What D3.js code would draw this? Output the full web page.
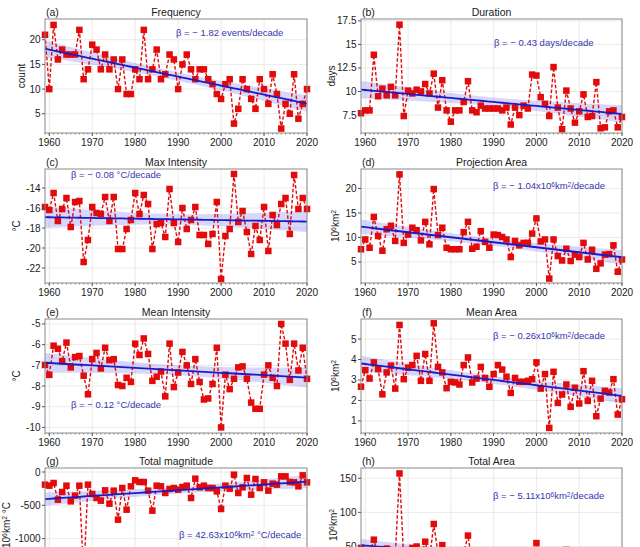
<!DOCTYPE html>
<html><head><meta charset="utf-8">
<script src="https://cdn.jsdelivr.net/npm/d3@7"></script>
<style>
body{margin:0;background:#fff}
svg{display:block}
text{font-family:"Liberation Sans",Arial,Helvetica,sans-serif;fill:#1a1a1a}
</style>
</head><body>
<svg id="c" width="640" height="547"></svg>
<script>
// ---------------- data ----------------
const years = d3.range(1959, 2021);
const xTicks = [1960, 1970, 1980, 1990, 2000, 2010, 2020];

const frequency = [21,10,23,16,18,17,17,17,22,12,14,19,18,14,17,14,16,10,16,9,9,14,12,22,12,14,18,12,13,17,16,
  10,15,17,14,12,14,14,12,11,9,8,11,12,3,6,12,10,8,6,12,10,7,13,9,2,7,5,13,4,7,10];
const duration = [7.7,8.0,8.0,13.9,9.5,10.3,9.6,10.5,9.6,17.1,7.4,
  10.1,9.8,10.2,10.0,10.8,9.8,11.9,8.3,11.2,8.0,6.8,8.0,8.0,8.9,11.1,
  8.0,7.8,8.5,8.2,8.2,8.2,8.2,8.0,8.3,
  6.5,8.3,7.5,8.5,8.2,
  11.8,11.7,9.4,8.7,7.4,12.6,8.3,6.0,10.1,8.2,6.7,7.9,9.7,7.3,7.4,11.0,6.1,6.2,7.9,8.0,6.2,7.3];
const maxIntensity = [-15.9,-16.2,-14.5,-17.3,-16.1,-15.0,-17.9,-15.4,-15.3,-21.4,
  -19.2,-15.9,-16.5,-16.6,-14.9,-17.3,-14.9,-20.1,-20.1,-18.1,
  -17.2,-14.5,-16.6,-14.7,-15.6,-20.1,-17.6,-17.5,-18.9,-14.1,
  -17.5,-19.4,-16.0,-18.1,-17.2,-15.9,-18.7,-18.7,-19.6,-18.6,
  -15.4,-23.1,-18.8,-18.1,-12.6,-17.4,-16.3,-18.4,-20.6,-17.8,
  -19.2,-15.9,-20.3,-16.7,-17.7,-15.6,-15.0,-18.6,-12.7,-16.1,
  -15.0,-16.1];
const projectionArea = [7.6,9.6,7.9,14.2,10.3,7.3,11.7,12.4,9.3,22.9,
  8.9,10.6,12.0,11.5,9.4,13.2,8.6,19.9,10.5,12.0,
  7.9,7.6,7.6,7.6,11.1,13.2,7.7,8.1,11.3,9.1,
  7.9,10.6,10.5,10.1,9.6,6.0,9.3,8.4,8.9,8.9,
  10.8,13.9,9.2,9.6,1.6,9.6,6.2,5.3,7.7,5.2,
  6.5,6.0,8.9,5.5,7.5,3.6,4.7,6.5,6.6,8.4,
  3.0,5.5];
const meanIntensity = [-6.98,-7.46,-6.05,-6.2,-6.8,-5.9,-7.1,-6.6,-6.55,-7.5,
  -8.4,-6.7,-6.4,-7.15,-6.15,-6.75,-6.7,-7.95,-8.0,-7.6,
  -7.8,-5.95,-6.5,-5.7,-6.45,-7.75,-7.55,-7.3,-8.5,-5.95,
  -8.05,-7.35,-6.35,-7.0,-7.9,-6.7,-7.8,-8.65,-8.6,-7.9,
  -6.15,-10.0,-7.45,-8.15,-7.65,-7.1,-7.05,-7.65,-8.8,-9.1,
  -9.1,-7.45,-7.0,-7.6,-8.0,-5.0,-5.95,-7.7,-5.95,-7.25,
  -6.15,-7.65];
const meanArea = [2.67,3.48,3.07,3.86,3.53,2.3,3.37,3.7,2.58,5.69,
  3.04,3.6,3.73,4.18,2.96,4.27,2.96,5.77,3.64,3.37,
  2.6,2.91,2.88,2.78,3.73,4.1,2.88,3.07,3.64,3.1,
  2.67,3.29,3.73,3.51,3.16,2.37,3.1,2.91,2.91,2.96,
  3.04,3.86,2.58,3.29,0.66,3.4,1.88,2.29,2.78,1.69,
  2.62,1.85,3.43,1.98,2.96,1.23,2.09,2.47,2.39,3.04,
  1.31,2.06];
const totalMagnitude = [-190,-205,-165,-415,-300,-205,-440,-355,-205,-1560,
  -190,-330,-390,-430,-275,-475,-280,-715,-240,-565,
  -215,-125,-150,-150,-280,-580,-205,-215,-315,-255,
  -240,-265,-225,-205,-390,-100,-230,-205,-240,-240,
  -290,-555,-205,-250,-40,-315,-230,-90,-340,-105,
  -240,-155,-280,-175,-190,-65,-65,-150,-155,-215,
  -50,-155];
const totalArea = [48,30,38,60,36,38,47,36,35,157,
  30,40,48,50,35,57,30,83,40,52,
  25,30,30,28,40,66,25,32,42,30,
  28,38,42,38,30,22,30,30,32,30,
  30,55,25,30,8,35,22,20,45,20,
  25,22,30,20,25,12,22,25,22,38,
  14,18];

const yTicksA = [5,10,15,20];
const yTicksB = [7.5,10,12.5,15,17.5];
const yTicksC = [-22,-20,-18,-16,-14];
const yTicksD = [5,10,15,20];
const yTicksE = [-10,-9,-8,-7,-6,-5];
const yTicksF = [1,2,3,4,5];
const yTicksG = [-1500,-1000,-500,0];
const yTicksH = [0,50,100,150];

const tags = ["(a)","(b)","(c)","(d)","(e)","(f)","(g)","(h)"];
const titles = ["Frequency","Duration","Max Intensity","Projection Area","Mean Intensity","Mean Area","Total magnitude","Total Area"];
// text segments: [text, isSuperscript]
const yLabels = [
  [["count"]], [["days"]], [["°C"]], [["10"],["6",1],["km"],["2",1]],
  [["°C"]], [["10"],["6",1],["km"],["2",1]], [["10"],["6",1],["km"],["2",1],[" °C"]], [["10"],["6",1],["km"],["2",1]]
];
const notes = [
  [["β = − 1.82 events/decade"]],
  [["β = − 0.43 days/decade"]],
  [["β = − 0.08 °C/decade"]],
  [["β = − 1.04x10"],["6",1],["km"],["2",1],["/decade"]],
  [["β = − 0.12 °C/decade"]],
  [["β = − 0.26x10"],["6",1],["km"],["2",1],["/decade"]],
  [["β = 42.63x10"],["6",1],["km"],["2",1],[" °C/decade"]],
  [["β = − 5.11x10"],["6",1],["km"],["2",1],["/decade"]]
];
const series = [frequency,duration,maxIntensity,projectionArea,meanIntensity,meanArea,totalMagnitude,totalArea];
const yTicks = [yTicksA,yTicksB,yTicksC,yTicksD,yTicksE,yTicksF,yTicksG,yTicksH];

// ---------------- layout ----------------
const W = 640, H = 547;
const colX = [[45,307],[361,622]];
const rowY = [19,169,319,468];
const PH = 114;
const domains = [[1.1,24.2],[5.6,17.7],[-23.5,-12.1],[0.7,24],[-10.27,-4.76],[0.41,5.98],[-1650,60],[-2,165]];
const labelX = [21.7,331.7,16.7,335,16.7,335,6,333];
const notePos = [[176,35.5],[494,46],[71,177.5],[493,189],[71,407.5],[493,339],[179,537.5],[493,499]];

const RED = "#e20a0a", BLUE = "#1c1cc4", NOTE = "#3636b0";
const svg = d3.select("#c");
const onCanvas = v => v < H + 5;   // texts that (at least partly) show in the window

function addSegments(sel, segs){
  segs.forEach(s=>{
    const t = sel.append("tspan").text(s[0]);
    if (s[1]) t.attr("font-size","0.68em").attr("baseline-shift","38%");
  });
}

function ols(xs, ys){
  const n = xs.length, mx = d3.mean(xs), my = d3.mean(ys);
  let sxx=0, sxy=0;
  for (let i=0;i<n;i++){ sxx += (xs[i]-mx)**2; sxy += (xs[i]-mx)*(ys[i]-my); }
  const b = sxy/sxx, a = my - b*mx;
  let sse = 0;
  for (let i=0;i<n;i++){ sse += (ys[i]-(a+b*xs[i]))**2; }
  const s = Math.sqrt(sse/(n-2));
  return {a,b,s,n,mx,sxx};
}

series.forEach((vals, i)=>{
  const col = i%2, row = Math.floor(i/2);
  const [x0,x1] = colX[col];
  const y0 = rowY[row], y1 = y0 + PH;
  const x = d3.scaleLinear().domain([1959,2020]).range([x0,x1]);
  const y = d3.scaleLinear().domain(domains[i]).range([y1,y0]);
  const g = svg.append("g");

  // grid
  g.selectAll(".gx").data(xTicks).join("line")
    .attr("x1",d=>x(d)).attr("x2",d=>x(d)).attr("y1",y0).attr("y2",y1)
    .attr("stroke","#e4e4e4").attr("stroke-width",0.8);
  g.selectAll(".gy").data(yTicks[i]).join("line")
    .attr("x1",x0).attr("x2",x1).attr("y1",d=>y(d)).attr("y2",d=>y(d))
    .attr("stroke","#e4e4e4").attr("stroke-width",0.8);

  // regression + CI band
  const r = ols(years, vals);
  const fit = years.map(yr=>{
    const m = r.a + r.b*yr;
    const se = r.s*Math.sqrt(1/r.n + (yr-r.mx)**2/r.sxx);
    return {yr, m, lo: m-2.0*se, hi: m+2.0*se};
  });
  g.append("path").datum(fit)
    .attr("d", d3.area().x(d=>x(d.yr)).y0(d=>y(d.lo)).y1(d=>y(d.hi)))
    .attr("fill","rgb(110,110,240)").attr("fill-opacity",0.28);

  // data line
  const pts = years.map((yr,k)=>({yr, v: vals[k]}));
  g.append("path").datum(pts)
    .attr("d", d3.line().x(d=>x(d.yr)).y(d=>y(d.v)))
    .attr("fill","none").attr("stroke",RED).attr("stroke-width",1.4)
    .attr("stroke-dasharray","3.5,2");
  const ms = 6.5;
  g.selectAll(".m").data(pts).join("rect")
    .attr("x",d=>x(d.yr)-ms/2).attr("y",d=>y(d.v)-ms/2)
    .attr("width",ms).attr("height",ms).attr("fill",RED);

  // trend line
  g.append("path").datum(fit)
    .attr("d", d3.line().x(d=>x(d.yr)).y(d=>y(d.m)))
    .attr("fill","none").attr("stroke",BLUE).attr("stroke-width",1.8);

  // frame
  g.append("rect").attr("x",x0).attr("y",y0).attr("width",x1-x0).attr("height",PH)
    .attr("fill","none").attr("stroke","#8a8a8a").attr("stroke-width",1);

  // x ticks
  g.selectAll(".mt").data(years).join("line")
    .attr("x1",d=>x(d)).attr("x2",d=>x(d)).attr("y1",y1).attr("y2",y1+1.6)
    .attr("stroke","#777").attr("stroke-width",0.8);
  g.selectAll(".xt").data(xTicks).join("line")
    .attr("x1",d=>x(d)).attr("x2",d=>x(d)).attr("y1",y1).attr("y2",y1+3)
    .attr("stroke","#555").attr("stroke-width",1);
  if (y1 + 12.5 < H) {
    g.selectAll(".xl").data(xTicks).join("text")
      .attr("x",d=>x(d)).attr("y",y1+12.5).attr("text-anchor","middle")
      .attr("font-size",10).text(d=>d);
  }

  // y ticks
  g.selectAll(".yt").data(yTicks[i]).join("line")
    .attr("x1",x0-3).attr("x2",x0).attr("y1",d=>y(d)).attr("y2",d=>y(d))
    .attr("stroke","#555").attr("stroke-width",1);
  g.selectAll(".yl").data(yTicks[i].filter(d=>onCanvas(y(d)+3.5))).join("text")
    .attr("x",x0-4.5).attr("y",d=>y(d)+3.5).attr("text-anchor","end")
    .attr("font-size",10).text(d=>String(d));

  // titles
  g.append("text").attr("x",x0+1).attr("y",y0-3.5).attr("font-size",10.5).text(tags[i]);
  g.append("text").attr("x",(x0+x1)/2).attr("y",y0-3.5).attr("text-anchor","middle")
    .attr("font-size",10.5).text(titles[i]);

  // y label
  const yl = g.append("text")
    .attr("transform",`translate(${labelX[i]},${(y0+y1)/2}) rotate(-90)`)
    .attr("text-anchor","middle").attr("dy","0.35em").attr("font-size",10);
  addSegments(yl, yLabels[i]);

  // note
  const nt = g.append("text").attr("x",notePos[i][0]).attr("y",notePos[i][1])
    .attr("font-size",9.5).style("fill",NOTE);
  addSegments(nt, notes[i]);
});
</script>
</body></html>
